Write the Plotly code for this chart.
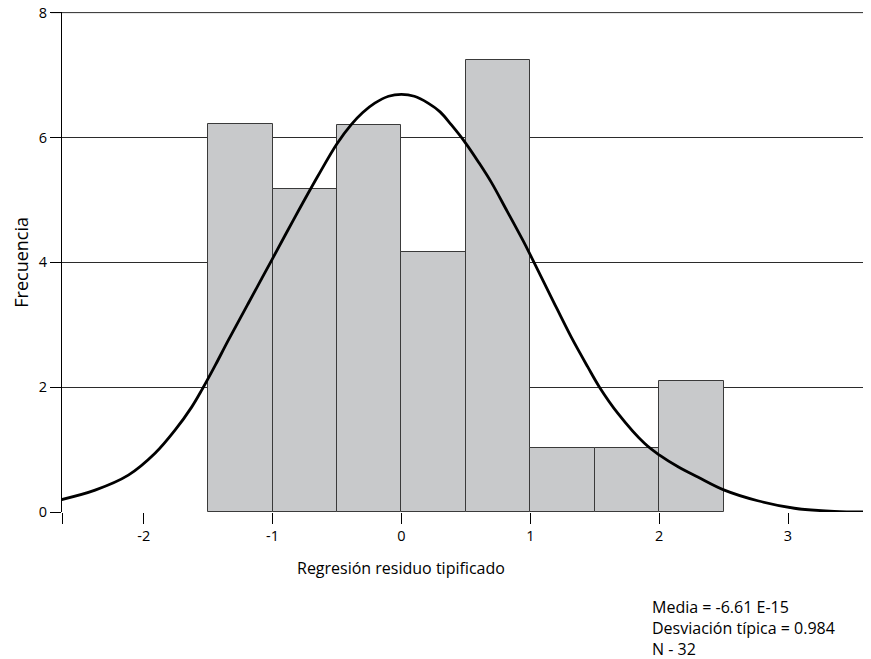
import plotly.graph_objects as go

# Histogram bins (centres) and heights
bin_centers = [-1.25, -0.75, -0.25, 0.25, 0.75, 1.25, 1.75, 2.25]
bin_heights = [6.21, 5.17, 6.20, 4.16, 7.24, 1.03, 1.03, 2.10]
bin_width = 0.5

# Normal curve points
curve_x = [-2.636, -2.377, -2.119, -1.912, -1.757, -1.628, -1.545, -1.442, -1.344,
           -1.189, -1.000, -0.827, -0.646, -0.500, -0.388, -0.300, -0.207, -0.100,
           0.000, 0.100, 0.207, 0.300, 0.388, 0.491, 0.600, 0.698, 0.820, 0.943,
           1.000, 1.163, 1.318, 1.447, 1.537, 1.680, 1.886, 2.003, 2.150, 2.300,
           2.506, 2.765, 3.049, 3.359, 3.643]
curve_y = [0.20, 0.35, 0.59, 0.94, 1.31, 1.68, 1.97, 2.36, 2.75,
           3.34, 4.06, 4.72, 5.39, 5.90, 6.21, 6.40, 6.55, 6.66,
           6.69, 6.66, 6.55, 6.41, 6.20, 5.93, 5.60, 5.28, 4.82, 4.35,
           4.12, 3.44, 2.80, 2.32, 2.00, 1.58, 1.10, 0.91, 0.72, 0.56,
           0.35, 0.18, 0.06, 0.01, 0.00]

x_range = [-2.634, 3.644]
x_tickvals = [-2.634, -2, -1, 0, 1, 2, 3]
x_ticktext = ["", "-2", "-1", "0", "1", "2", "3"]
y_range = [0, 8.01]
y_tickvals = [0, 2, 4, 6, 8]
y_ticktext = ["0", "2", "4", "6", "8"]
y_top = y_tickvals[-1]

stats_lines = ["Media = -6.61 E-15", "Desviación típica = 0.984", "N - 32"]

FONT = "Open Sans"

fig = go.Figure()
fig.add_trace(go.Bar(
    x=bin_centers, y=bin_heights, width=bin_width,
    marker=dict(color="#c8c9cb", line=dict(color="#3a3a3a", width=1)),
    showlegend=False,
))
fig.add_trace(go.Scatter(
    x=curve_x, y=curve_y, mode="lines",
    line=dict(color="black", width=2.8, shape="spline", smoothing=1.0),
    showlegend=False,
))

fig.update_layout(
    width=863, height=651,
    margin=dict(l=54, r=0, t=4, b=147, autoexpand=False),
    paper_bgcolor="white", plot_bgcolor="white",
    font=dict(family=FONT, size=14, color="black"),
    bargap=0,
    xaxis=dict(
        range=x_range, tickmode="array", tickvals=x_tickvals, ticktext=x_ticktext,
        ticks="outside", ticklen=11, tickcolor="black", tickwidth=1,
        showgrid=False, zeroline=False, showline=False, automargin=False,
        tickfont=dict(size=14.5, family=FONT),
    ),
    yaxis=dict(
        range=y_range, tickmode="array", tickvals=y_tickvals, ticktext=y_ticktext,
        ticks="outside", ticklen=11, tickcolor="black", tickwidth=1,
        showgrid=True, gridcolor="#2b2b2b", gridwidth=1, automargin=False,
        zeroline=False, showline=True, linecolor="black", linewidth=1,
        tickfont=dict(size=14.5, family=FONT), ticklabeloverflow="allow",
    ),
)

# top gridline and tick at the upper range edge
fig.add_shape(type="line", xref="paper", yref="y", x0=-11 / 809, x1=1, y0=y_top, y1=y_top,
              line=dict(color="#2b2b2b", width=1), layer="below")

fig.add_annotation(
    x=0, xref="x", y=-0.112, yref="paper", yanchor="middle",
    text="Regresión residuo tipificado", showarrow=False,
    font=dict(size=16, family=FONT),
)
fig.add_annotation(
    x=-0.051, xref="paper", xanchor="center", y=0.5, yref="paper", textangle=-90,
    text="Frecuencia", showarrow=False, font=dict(size=18, family=FONT),
)
fig.add_annotation(
    x=0.727, xref="paper", xanchor="left", y=-0.232, yref="paper", yanchor="middle",
    text="<br>".join(stats_lines), showarrow=False, align="left",
    font=dict(size=16, family=FONT),
)

fig.write_html("out.html")
